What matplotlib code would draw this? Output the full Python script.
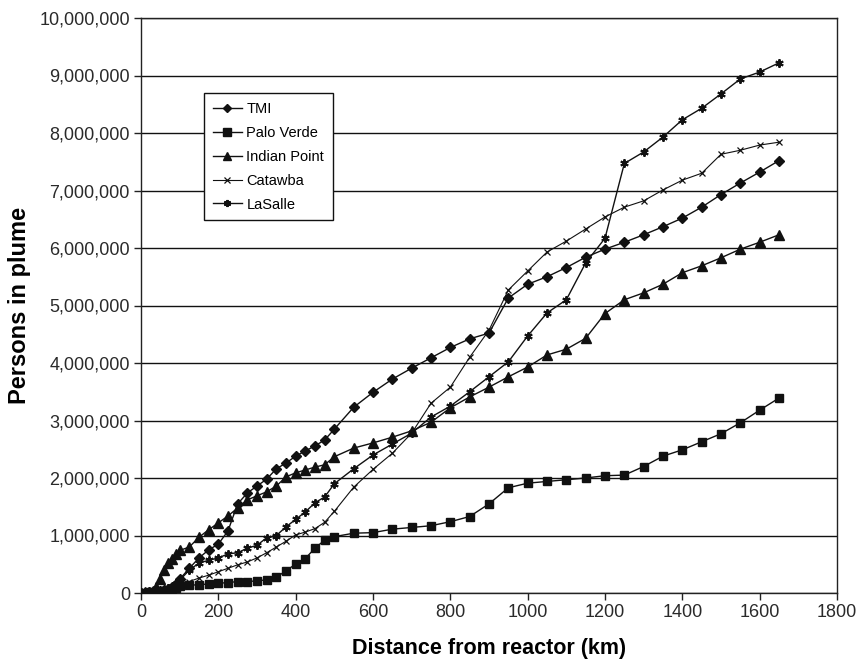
import matplotlib
matplotlib.use("Agg")
import matplotlib.pyplot as plt
from matplotlib.ticker import FuncFormatter, MultipleLocator

plt.rcParams['font.family'] = ['Liberation Sans', 'DejaVu Sans']

# Distance from reactor (km)
dist = [0, 10, 20, 30, 40, 50, 60, 70, 80, 90, 100,
        125, 150, 175, 200, 225, 250, 275, 300, 325, 350, 375, 400, 425, 450, 475, 500,
        550, 600, 650, 700, 750, 800, 850, 900, 950, 1000, 1050, 1100, 1150, 1200,
        1250, 1300, 1350, 1400, 1450, 1500, 1550, 1600, 1650]

# Persons in plume (millions)
tmi = [0, 0.005, 0.01, 0.02, 0.03, 0.04, 0.05, 0.07, 0.10, 0.16, 0.24,
       0.43, 0.61, 0.75, 0.85, 1.08, 1.55, 1.74, 1.86, 1.98, 2.16, 2.26, 2.38, 2.47, 2.56, 2.66, 2.85,
       3.23, 3.49, 3.72, 3.91, 4.09, 4.27, 4.42, 4.52, 5.13, 5.37, 5.50, 5.66, 5.84, 5.98,
       6.10, 6.23, 6.37, 6.52, 6.71, 6.93, 7.13, 7.32, 7.52]
palo_verde = [0, 0, 0.01, 0.01, 0.02, 0.03, 0.04, 0.05, 0.07, 0.09, 0.12,
              0.14, 0.14, 0.16, 0.17, 0.18, 0.20, 0.20, 0.21, 0.23, 0.27, 0.39, 0.50, 0.60, 0.78, 0.92, 0.98,
              1.04, 1.05, 1.11, 1.14, 1.17, 1.24, 1.33, 1.55, 1.83, 1.91, 1.94, 1.97, 2.00, 2.04,
              2.05, 2.20, 2.38, 2.49, 2.63, 2.77, 2.96, 3.18, 3.39]
indian_point = [0, 0.01, 0.02, 0.04, 0.10, 0.25, 0.40, 0.52, 0.60, 0.67, 0.74,
                0.80, 0.97, 1.10, 1.22, 1.34, 1.48, 1.62, 1.69, 1.76, 1.86, 2.02, 2.09, 2.14, 2.19, 2.23, 2.37,
                2.52, 2.61, 2.71, 2.82, 2.97, 3.22, 3.41, 3.58, 3.76, 3.93, 4.14, 4.24, 4.43, 4.86,
                5.10, 5.22, 5.37, 5.57, 5.69, 5.83, 5.98, 6.10, 6.23]
catawba = [0, 0, 0.01, 0.01, 0.02, 0.03, 0.04, 0.05, 0.07, 0.10, 0.14,
           0.20, 0.26, 0.31, 0.37, 0.43, 0.49, 0.54, 0.61, 0.70, 0.80, 0.90, 1.01, 1.06, 1.12, 1.23, 1.42,
           1.84, 2.15, 2.43, 2.78, 3.30, 3.58, 4.10, 4.57, 5.27, 5.60, 5.93, 6.12, 6.33, 6.54,
           6.71, 6.82, 7.01, 7.18, 7.30, 7.63, 7.70, 7.79, 7.84]
lasalle = [0, 0.005, 0.01, 0.02, 0.03, 0.04, 0.06, 0.08, 0.11, 0.16, 0.22,
           0.40, 0.52, 0.57, 0.61, 0.68, 0.70, 0.78, 0.83, 0.96, 1.00, 1.15, 1.28, 1.41, 1.57, 1.67, 1.90,
           2.16, 2.40, 2.59, 2.78, 3.06, 3.25, 3.50, 3.76, 4.02, 4.47, 4.87, 5.10, 5.74, 6.17,
           7.47, 7.67, 7.93, 8.23, 8.43, 8.68, 8.94, 9.06, 9.22]

series_names = ["TMI", "Palo Verde", "Indian Point", "Catawba", "LaSalle"]

fig = plt.figure(figsize=(8.61, 6.66), dpi=100)
ax = fig.add_axes([141/861, 1-593/666, (837-141)/861, (593-18)/666])

col = '#111111'
M = 1e6
ax.plot(dist, [v*M for v in tmi], color=col, lw=1, marker='D', ms=5, mec=col, mfc=col, label=series_names[0], zorder=3)
ax.plot(dist, [v*M for v in palo_verde], color=col, lw=1, marker='s', ms=6, mec=col, mfc=col, label=series_names[1], zorder=3)
ax.plot(dist, [v*M for v in indian_point], color=col, lw=1, marker='^', ms=7, mec=col, mfc=col, label=series_names[2], zorder=3)
ax.plot(dist, [v*M for v in catawba], color=col, lw=0.8, marker='x', ms=5, mew=0.9, mec=col, label=series_names[3], zorder=3)
ax.plot(dist, [v*M for v in lasalle], color=col, lw=1, marker=(6, 2, 0), ms=6, mew=1.4, mec=col, label=series_names[4], zorder=3)

ax.set_xlim(0, 1800)
ax.set_ylim(0, 10e6)
ax.xaxis.set_major_locator(MultipleLocator(200))
ax.yaxis.set_major_locator(MultipleLocator(1e6))
ax.yaxis.set_major_formatter(FuncFormatter(lambda v, p: f"{int(round(v)):,}"))

ax.grid(axis='y', color='#111111', lw=1.0, zorder=0)
ax.set_axisbelow(True)
for s in ax.spines.values():
    s.set_color('#222222')
    s.set_linewidth(1.0)

ax.tick_params(axis='both', direction='out', length=5, width=1, colors='#222222',
               labelsize=13, labelcolor='#2a2a2a', pad=3)

ax.set_xlabel("Distance from reactor (km)", fontsize=15.5, fontweight='bold', labelpad=12)
ax.set_ylabel("Persons in plume", fontsize=17, fontweight='bold', labelpad=6)

leg = ax.legend(loc='upper left', bbox_to_anchor=(0.08, 0.882), frameon=True, fancybox=False,
                edgecolor='#111111', framealpha=1, fontsize=10.5, handlelength=2.0,
                labelspacing=0.68, borderpad=0.6, handletextpad=0.3, markerscale=0.85)
leg.get_frame().set_linewidth(1.0)

fig.savefig("out.png", dpi=100)
